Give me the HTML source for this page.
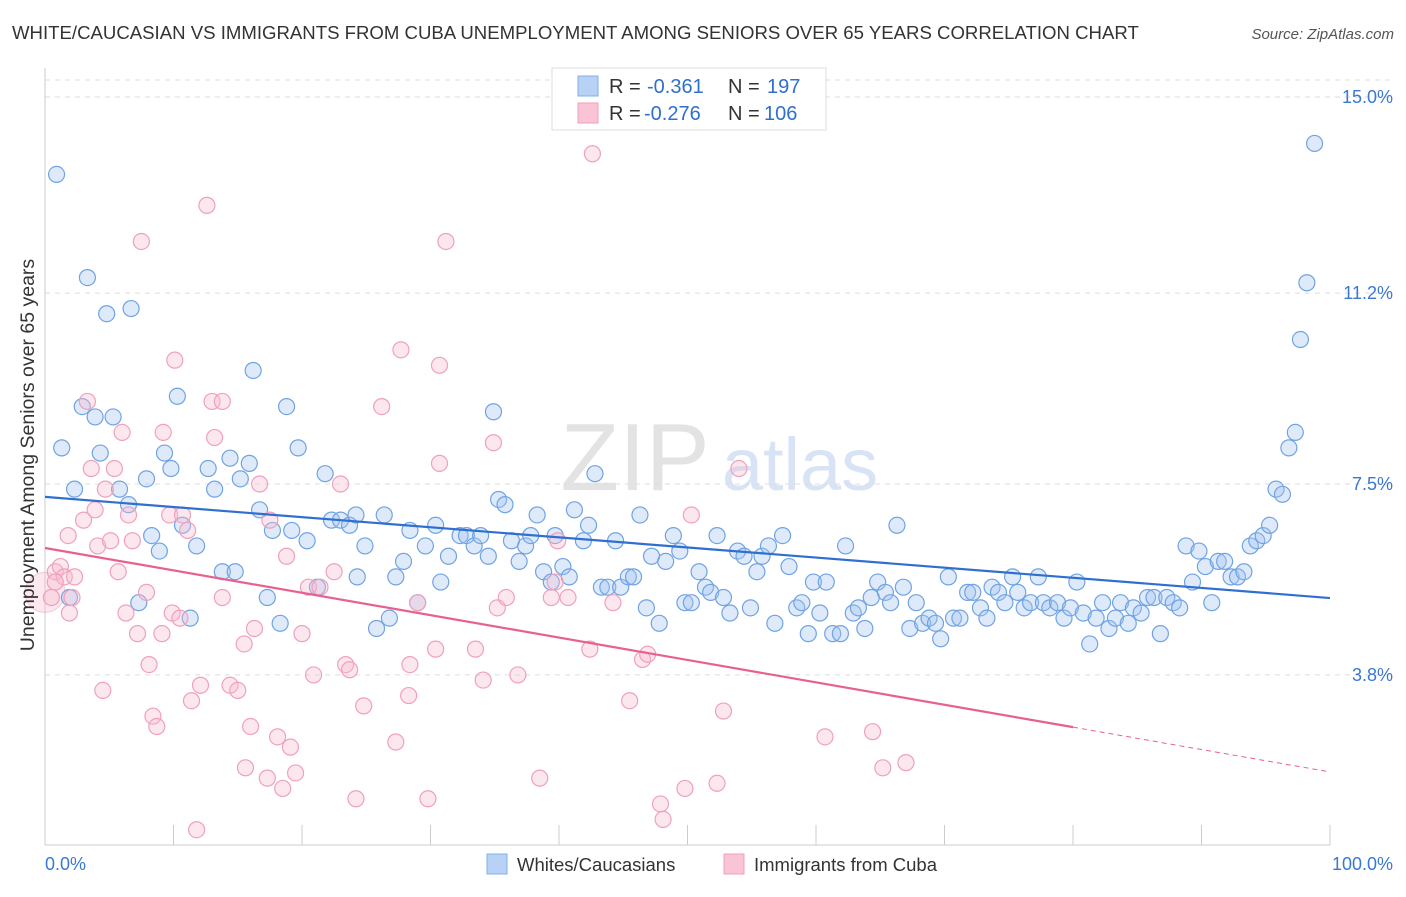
<!DOCTYPE html>
<html><head><meta charset="utf-8">
<style>
body{margin:0;background:#fff;font-family:"Liberation Sans",sans-serif;}
svg text{font-family:"Liberation Sans",sans-serif;}
</style></head>
<body>
<svg id="chart" width="1406" height="892" xmlns="http://www.w3.org/2000/svg">
<text x="12" y="39" font-size="18.6" fill="#333">WHITE/CAUCASIAN VS IMMIGRANTS FROM CUBA UNEMPLOYMENT AMONG SENIORS OVER 65 YEARS CORRELATION CHART</text>
<text x="1394" y="39" font-size="15" fill="#555" text-anchor="end" font-style="italic">Source: ZipAtlas.com</text>
<g>
<text x="635" y="490" font-size="96" fill="#d8d8d8" font-family="Liberation Serif" text-anchor="middle" opacity="0.7">ZIP</text>
<text x="800" y="490" font-size="74" fill="#c8daf2" text-anchor="middle" opacity="0.7">atlas</text>
</g>
<g id="grid"></g>
<g id="points"></g>
<g id="lines"></g>
<text transform="translate(34,455) rotate(-90)" font-size="19.5" fill="#333" text-anchor="middle">Unemployment Among Seniors over 65 years</text>
<g>
<rect x="552" y="68" width="274" height="62" fill="#fff" stroke="#ddd"/>
<rect x="578" y="76" width="20" height="20" fill="#b8d2f5" stroke="#7fb0e8"/>
<rect x="578" y="103" width="20" height="20" fill="#f9c5d5" stroke="#f0a0bb"/>
<text x="609" y="93" font-size="20" fill="#333">R =</text>
<text x="647" y="93" font-size="20" fill="#2f6fd0">-0.361</text>
<text x="728" y="93" font-size="20" fill="#333">N =</text>
<text x="767" y="93" font-size="20" fill="#2f6fd0">197</text>
<text x="609" y="120" font-size="20" fill="#333">R =</text>
<text x="644" y="120" font-size="20" fill="#2f6fd0">-0.276</text>
<text x="728" y="120" font-size="20" fill="#333">N =</text>
<text x="764" y="120" font-size="20" fill="#2f6fd0">106</text>
</g>
<g>
<rect x="487" y="854" width="20" height="20" fill="#b8d2f5" stroke="#7fb0e8"/>
<text x="517" y="871" font-size="18.5" fill="#333">Whites/Caucasians</text>
<rect x="724" y="854" width="20" height="20" fill="#f9c5d5" stroke="#f0a0bb"/>
<text x="754" y="871" font-size="18.5" fill="#333">Immigrants from Cuba</text>
</g>
</svg>
<script>
const yTicks=[15.0,11.2,7.5,3.8];
const yTickLabels=["15.0%","11.2%","7.5%","3.8%"];
const xTicks=[0,10,20,30,40,50,60,70,80,90,100];
const blueX=[0.9,3.3,4.8,6.7,1.3,2.3,2.9,3.9,5.3,4.3,5.8,6.5,7.9,10.3,9.3,9.8,12.7,13.2,14.4,15.2,15.9,16.2,18.8,19.7,21.8,8.3,8.9,10.7,11.8,7.3,1.9,11.3,13.8,14.8,16.7,17.7,19.2,20.4,21.2,17.3,18.3,22.3,23.0,23.7,24.2,24.9,26.4,24.3,25.8,26.8,27.3,27.9,28.4,29.0,29.6,30.4,30.8,31.4,32.3,32.8,33.4,33.9,34.5,34.9,35.3,35.8,36.3,36.9,37.4,37.8,38.3,38.8,39.4,39.7,40.3,40.8,41.2,41.9,42.3,42.8,43.3,43.8,44.4,44.8,45.4,45.8,46.3,46.8,47.2,47.8,48.3,48.9,49.4,49.8,50.3,50.9,51.4,51.8,52.3,52.8,53.3,53.9,54.4,54.9,55.4,55.8,56.3,56.8,57.4,57.9,58.5,58.9,59.4,59.8,60.3,60.8,61.3,61.9,62.3,62.9,63.3,63.8,64.3,64.8,65.4,65.8,66.3,66.8,67.3,67.8,68.3,68.8,69.3,69.7,70.3,70.7,71.2,71.8,72.2,72.8,73.3,73.7,74.2,74.7,75.3,75.7,76.2,76.7,77.3,77.7,78.2,78.8,79.3,79.8,80.3,80.8,81.3,81.8,82.3,82.8,83.3,83.7,84.3,84.7,85.3,85.8,86.3,86.8,87.3,87.8,88.3,88.8,89.3,89.8,90.3,90.8,91.3,91.8,92.3,92.8,93.3,93.8,94.3,94.8,95.3,95.8,96.3,96.8,97.3,97.7,98.2,98.8];
const blueY=[13.5,11.5,10.8,10.9,8.2,7.4,9.0,8.8,8.8,8.1,7.4,7.1,7.6,9.2,8.1,7.8,7.8,7.4,8.0,7.6,7.9,9.7,9.0,8.2,7.7,6.5,6.2,6.7,6.3,5.2,5.3,4.9,5.8,5.8,7.0,6.6,6.6,6.4,5.5,5.3,4.8,6.8,6.8,6.7,6.9,6.3,6.9,5.7,4.7,4.9,5.7,6.0,6.6,5.2,6.3,6.7,5.6,6.1,6.5,6.5,6.3,6.5,6.1,8.9,7.2,7.1,6.4,6.0,6.3,6.5,6.9,5.8,5.6,6.5,5.9,5.7,7.0,6.4,6.7,7.7,5.5,5.5,6.4,5.5,5.7,5.7,6.9,5.1,6.1,4.8,6.0,6.5,6.2,5.2,5.2,5.8,5.5,5.4,6.5,5.3,5.0,6.2,6.1,5.1,5.8,6.1,6.3,4.8,6.5,5.9,5.1,5.2,4.6,5.6,5.0,5.6,4.6,4.6,6.3,5.0,5.1,4.7,5.3,5.6,5.4,5.2,6.7,5.5,4.7,5.2,4.8,4.9,4.8,4.5,5.7,4.9,4.9,5.4,5.4,5.1,4.9,5.5,5.4,5.2,5.7,5.4,5.1,5.2,5.7,5.2,5.1,5.2,4.9,5.1,5.6,5.0,4.4,4.9,5.2,4.7,4.9,5.2,4.8,5.1,5.0,5.3,5.3,4.6,5.3,5.2,5.1,6.3,5.6,6.2,5.9,5.2,6.0,6.0,5.7,5.7,5.8,6.3,6.4,6.5,6.7,7.4,7.3,8.2,8.5,10.3,11.4,14.1];
const pinkX=[0.8,1.2,1.5,0.8,0.5,1.8,2.1,2.3,1.9,3.0,3.3,3.6,3.9,4.1,4.5,4.7,5.1,5.4,5.7,6.0,6.3,6.5,6.8,7.2,7.5,7.9,8.1,8.4,8.7,9.1,9.2,9.7,9.9,10.1,10.5,10.7,11.1,11.4,11.8,12.1,12.6,13.0,13.2,13.8,13.8,14.4,15.0,15.5,15.6,16.0,16.3,16.7,17.3,17.5,18.1,18.5,18.8,19.1,19.5,20.0,20.5,20.9,21.4,22.5,23.0,23.4,23.7,24.2,24.8,26.2,27.3,27.7,28.4,28.3,29.0,29.8,30.4,30.7,30.7,31.2,33.5,34.1,34.9,35.2,35.9,36.8,38.5,39.4,39.7,39.9,40.7,42.4,42.6,44.2,45.5,46.5,46.9,47.9,48.1,49.8,50.3,52.3,52.8,54.0,60.7,64.4,65.2,67.0];
const pinkY=[5.8,5.9,5.7,5.6,5.3,6.5,5.3,5.7,5.0,6.8,9.1,7.8,7.0,6.3,3.5,7.4,6.4,7.8,5.8,8.5,5.0,6.9,6.4,4.6,12.2,5.4,4.0,3.0,2.8,4.6,8.5,6.9,5.0,9.9,4.9,6.9,6.6,3.3,0.8,3.6,12.9,9.1,8.4,5.3,9.1,3.6,3.5,4.4,2.0,2.8,4.7,7.5,1.8,6.8,2.6,1.6,6.1,2.4,1.9,4.6,5.5,3.8,5.5,5.8,7.5,4.0,3.9,1.4,3.2,9.0,2.5,10.1,4.0,3.4,5.2,1.4,4.3,9.8,7.9,12.2,4.3,3.7,8.3,5.1,5.3,3.8,1.8,5.3,5.6,6.4,5.3,4.3,13.9,5.2,3.3,4.1,4.2,1.3,1.0,1.6,6.9,1.7,3.1,7.8,2.6,2.7,2.0,2.1];
const blueTrend=[7.25,5.29];
const pinkTrend=[6.26,1.92];
const pinkSolidEnd=80;
const X0=45,X1=1330,Y15=97,PPU=51.6;
const xs=v=>X0+(X1-X0)*v/100;
const ys=v=>Y15+(15-v)*PPU;
const NS="http://www.w3.org/2000/svg";
function mk(t,a,p){const e=document.createElementNS(NS,t);for(const k in a)e.setAttribute(k,a[k]);p.appendChild(e);return e;}
const grid=document.getElementById('grid');
mk('line',{x1:45,x2:1393,y1:80,y2:80,stroke:'#ddd','stroke-dasharray':'5,5'},grid);
yTicks.forEach((t,i)=>{
 const l=mk('line',{x1:45,x2:1393,y1:ys(t),y2:ys(t),stroke:'#ddd','stroke-dasharray':'5,5'},grid);
 
 
 const tx=mk('text',{x:1393,y:ys(t)+6,'font-size':18,fill:'#3a78d4','text-anchor':'end'},grid);
 tx.textContent=yTickLabels[i];
 
 
});
const ax=mk('line',{x1:45,x2:45,y1:68,y2:845,stroke:'#ccc'},grid);


const bx=mk('line',{x1:45,x2:1330,y1:845,y2:845,stroke:'#ccc'},grid);


xTicks.forEach(t=>{
 const l=mk('line',{x1:xs(t),x2:xs(t),y1:825,y2:845,stroke:'#ccc'},grid);
 
 
});
const xl0=mk('text',{x:45,y:870,'font-size':18,fill:'#3a78d4'},grid);xl0.textContent='0.0%';


const xl1=mk('text',{x:1393,y:870,'font-size':18,fill:'#3a78d4','text-anchor':'end'},grid);xl1.textContent='100.0%';


const pts=document.getElementById('points');
const big=mk('circle',{cx:xs(0),cy:ys(5.4),r:20,fill:'rgba(245,180,200,0.3)',stroke:'rgba(240,160,187,0.5)'},pts);


blueX.forEach((x,i)=>{
 const c=mk('circle',{cx:xs(x),cy:ys(blueY[i]),r:8,fill:'rgba(160,196,240,0.35)',stroke:'#6fa3e3','stroke-width':1.2},pts);
 
 
});
pinkX.forEach((x,i)=>{
 const c=mk('circle',{cx:xs(x),cy:ys(pinkY[i]),r:8,fill:'rgba(247,185,205,0.35)',stroke:'#f0a0bb','stroke-width':1.2},pts);
 
 
});
const ln=document.getElementById('lines');
const b=mk('line',{x1:xs(0),y1:ys(blueTrend[0]),x2:xs(100),y2:ys(blueTrend[1]),stroke:'#2f6fd0','stroke-width':2.2},ln);


const pm=pinkTrend[0]+(pinkTrend[1]-pinkTrend[0])*pinkSolidEnd/100;
const p=mk('line',{x1:xs(0),y1:ys(pinkTrend[0]),x2:xs(pinkSolidEnd),y2:ys(pm),stroke:'#e8608f','stroke-width':2.2},ln);


const pd=mk('line',{x1:xs(pinkSolidEnd),y1:ys(pm),x2:xs(100),y2:ys(pinkTrend[1]),stroke:'#e8608f','stroke-width':1,'stroke-dasharray':'5,4'},ln);


</script>
</body></html>
